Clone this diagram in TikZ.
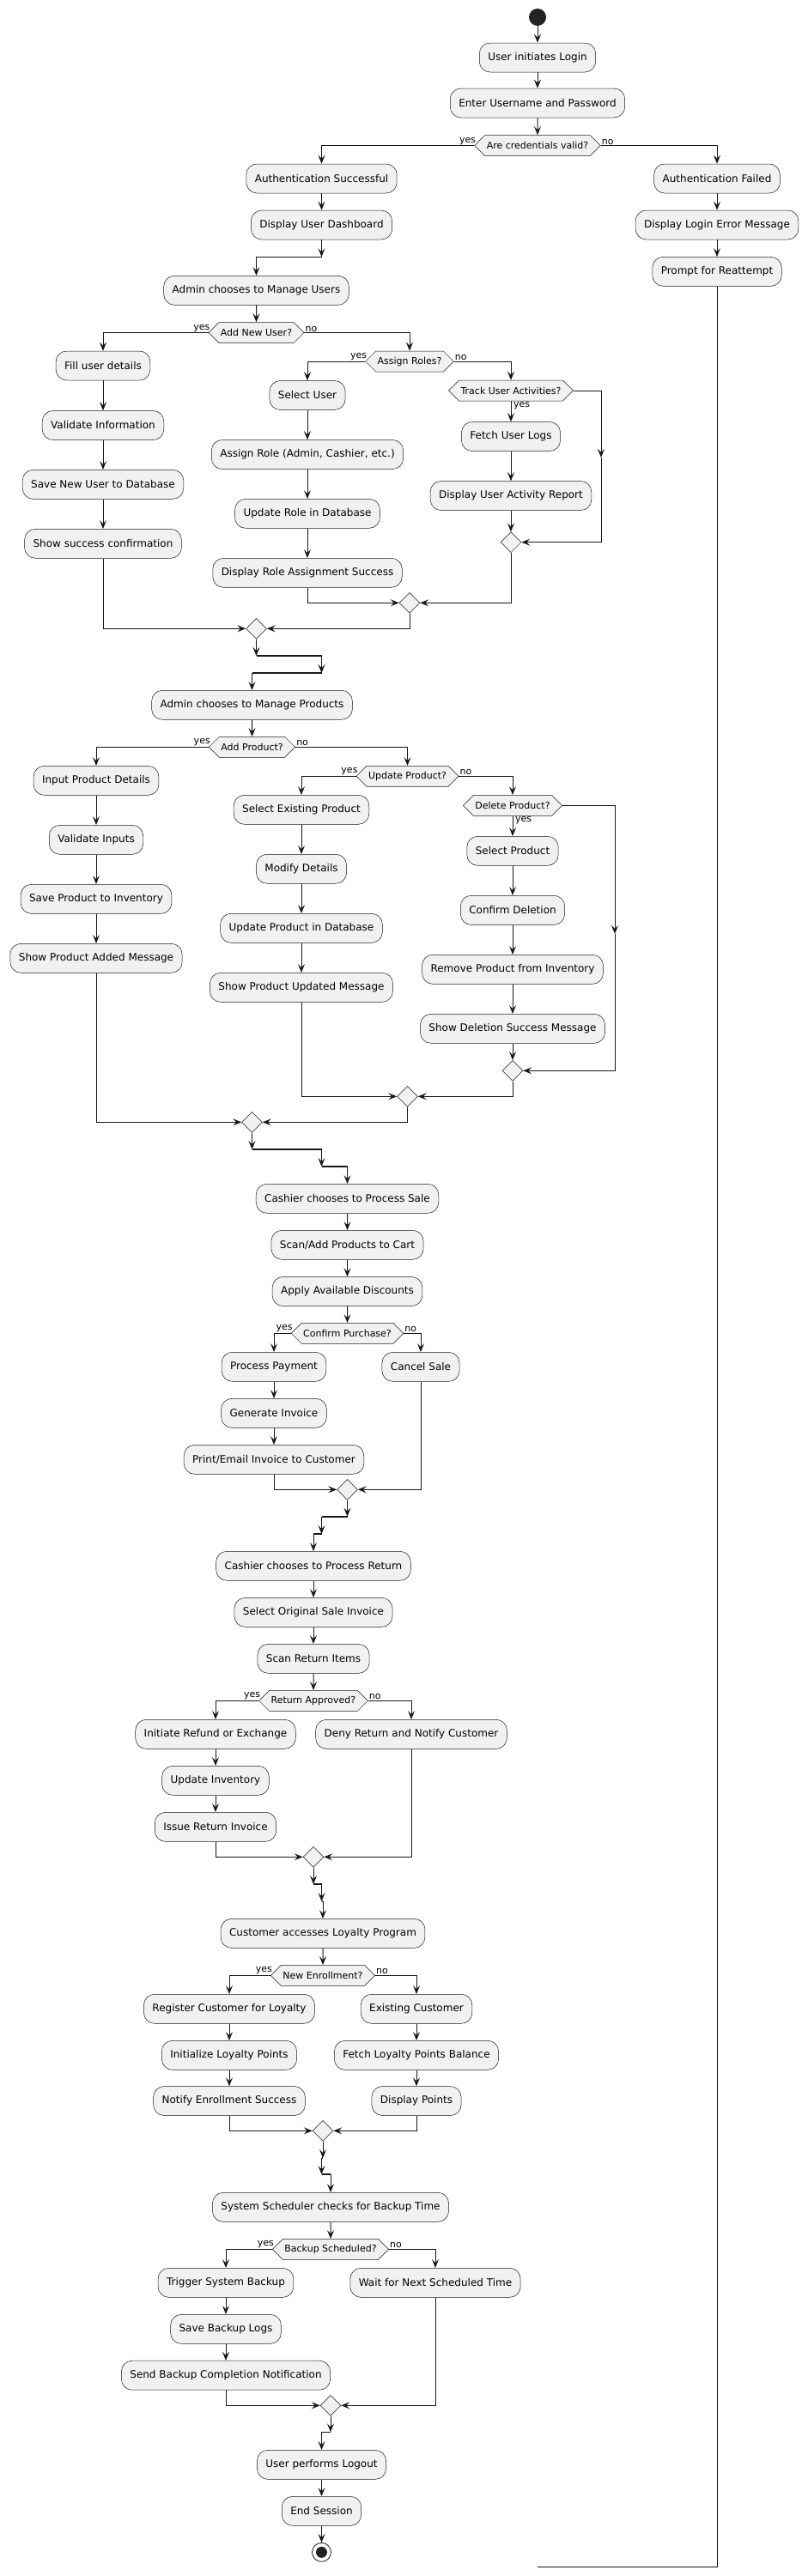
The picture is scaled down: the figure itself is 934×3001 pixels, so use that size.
\documentclass[tikz,border=0pt]{standalone}
\usepackage{fontspec}
\setmainfont{DejaVu Sans}
\usetikzlibrary{shapes.geometric,shapes.symbols,arrows.meta}
\definecolor{bfill}{HTML}{F1F1F1}
\definecolor{bline}{HTML}{181818}
\definecolor{dot}{HTML}{222222}
\begin{document}
\begin{tikzpicture}[x=1pt,y=-1pt,
 act/.style={draw=bline,fill=bfill,line width=0.5pt,rounded corners=12.5pt,minimum height=34pt,inner xsep=10pt,inner ysep=0pt,font=\fontsize{12}{14}\selectfont},
 dec/.style={signal,signal to=east and west,draw=bline,fill=bfill,line width=0.5pt,minimum height=24pt,inner xsep=2pt,inner ysep=0pt,font=\fontsize{11}{13}\selectfont},
 mrg/.style={diamond,draw=bline,fill=bfill,line width=0.5pt,minimum width=24pt,minimum height=24pt,inner sep=0pt},
 arr/.style={draw=bline,line width=1pt,-{Stealth[length=10pt,width=8pt,inset=4pt]}},
 ln/.style={draw=bline,line width=1pt},
 jbar/.style={draw=bline,line width=1.6pt},
 lbl/.style={font=\fontsize{11}{13}\selectfont,inner sep=1pt}]
\useasboundingbox (0,0) rectangle (934,3001);

% ---------- login ----------
\node[circle,fill=dot,minimum size=20pt,inner sep=0pt] (start) at (626,20) {};
\node[act] (n1) at (626,67) {User initiates Login};
\node[act] (n2) at (626,120) {Enter Username and Password};
\node[dec] (d1) at (626,169.5) {Are credentials valid?};
\node[act] (n3) at (374.5,208) {Authentication Successful};
\node[act] (n4) at (835,208) {Authentication Failed};
\node[act] (n5) at (374.5,262) {Display User Dashboard};
\node[act] (n6) at (835,262) {Display Login Error Message};
\node[act] (n7) at (835,316.3) {Prompt for Reattempt};

\draw[arr] (start) -- (n1);
\draw[arr] (n1) -- (n2);
\draw[arr] (n2) -- (d1);
\draw[arr] (d1.west) -| (n3.north);
\draw[arr] (d1.east) -| (n4.north);
\node[lbl,anchor=south east,xshift=3pt] (y1) at (d1.west) {yes};
\node[lbl,anchor=south west] (o1) at (d1.east) {no};
\draw[arr] (n3) -- (n5);
\draw[arr] (n4) -- (n6);
\draw[arr] (n6) -- (n7);
\coordinate (rb) at (835,2990);
\coordinate (re) at (626,2990);
\draw[ln] (n7.south) -- (rb) -- (re);

\coordinate (j1a) at (374.5,299.3);
\coordinate (j1b) at (298.5,299.3);
\draw[arr] (n5.south) -- (j1a);
\draw[jbar] (j1a) -- (j1b);

% ---------- manage users ----------
\node[act] (n8) at (298.5,338.3) {Admin chooses to Manage Users};
\draw[arr] (j1b) -- (n8.north);
\node[dec] (d2) at (298.5,387.5) {Add New User?};
\draw[arr] (n8) -- (d2);
\node[act] (n9) at (120,426) {Fill user details};
\node[dec] (d3) at (477,421) {Assign Roles?};
\draw[arr] (d2.west) -| (n9.north);
\draw[arr] (d2.east) -| (d3.north);
\node[lbl,anchor=south east,xshift=3pt] (y2) at (d2.west) {yes};
\node[lbl,anchor=south west] (o2) at (d2.east) {no};
\node[act] (n10) at (120,495.5) {Validate Information};
\node[act] (n11) at (120,564.3) {Save New User to Database};
\node[act] (n12) at (120,633.3) {Show success confirmation};
\draw[arr] (n9) -- (n10);
\draw[arr] (n10) -- (n11);
\draw[arr] (n11) -- (n12);
\node[act] (n13) at (358,460.5) {Select User};
\node[act] (n14) at (358,529.5) {Assign Role (Admin, Cashier, etc.)};
\node[act] (n15) at (358,598.3) {Update Role in Database};
\node[act] (n16) at (358,667.3) {Display Role Assignment Success};
\node[dec] (d4) at (595,455) {Track User Activities?};
\draw[arr] (d3.west) -| (n13.north);
\draw[arr] (d3.east) -| (d4.north);
\node[lbl,anchor=south east,xshift=3pt] (y3) at (d3.west) {yes};
\node[lbl,anchor=south west] (o3) at (d3.east) {no};
\draw[arr] (n13) -- (n14);
\draw[arr] (n14) -- (n15);
\draw[arr] (n15) -- (n16);
\node[act] (n17) at (595,508.5) {Fetch User Logs};
\node[act] (n18) at (595,577.5) {Display User Activity Report};
\draw[arr] (d4.south) -- (n17.north);
\node[lbl,anchor=north west,xshift=2pt] (y4) at (d4.south) {yes};
\draw[arr] (n17) -- (n18);
\node[mrg] (m1) at (595,631.7) {};
\draw[arr] (n18) -- (m1);
\coordinate (c1m) at (700,533);
\draw[arr] (d4.east) -| (c1m);
\draw[arr] (c1m) |- (m1.east);
\node[mrg] (m2) at (477,702.3) {};
\draw[arr] (n16.south) |- (m2.west);
\draw[arr] (m1.south) |- (m2.east);
\node[mrg] (m3) at (298.5,732.3) {};
\draw[arr] (n12.south) |- (m3.west);
\draw[arr] (m2.south) |- (m3.east);

\coordinate (j2a) at (298.5,764);
\coordinate (j2b) at (374.5,764);
\coordinate (j2c) at (374.5,784);
\coordinate (j2d) at (293.5,784);
\draw[arr] (m3.south) -- (j2a);
\draw[jbar] (j2a) -- (j2b);
\draw[arr] (j2b) -- (j2c);
\draw[jbar] (j2c) -- (j2d);

% ---------- manage products ----------
\node[act] (n19) at (293.5,821.3) {Admin chooses to Manage Products};
\draw[arr] (j2d) -- (n19.north);
\node[dec] (d5) at (293.5,870.3) {Add Product?};
\draw[arr] (n19) -- (d5);
\node[act] (n20) at (112,909.3) {Input Product Details};
\node[dec] (d6) at (474.5,904.3) {Update Product?};
\draw[arr] (d5.west) -| (n20.north);
\draw[arr] (d5.east) -| (d6.north);
\node[lbl,anchor=south east,xshift=3pt] (y5) at (d5.west) {yes};
\node[lbl,anchor=south west] (o5) at (d5.east) {no};
\node[act] (n21) at (112,978.3) {Validate Inputs};
\node[act] (n22) at (112,1047.3) {Save Product to Inventory};
\node[act] (n23) at (112,1116.3) {Show Product Added Message};
\draw[arr] (n20) -- (n21);
\draw[arr] (n21) -- (n22);
\draw[arr] (n22) -- (n23);
\node[act] (n24) at (351,943.3) {Select Existing Product};
\node[act] (n25) at (351,1012.3) {Modify Details};
\node[act] (n26) at (351,1081.3) {Update Product in Database};
\node[act] (n27) at (351,1150.3) {Show Product Updated Message};
\node[dec] (d7) at (597,938.3) {Delete Product?};
\draw[arr] (d6.west) -| (n24.north);
\draw[arr] (d6.east) -| (d7.north);
\node[lbl,anchor=south east,xshift=3pt] (y6) at (d6.west) {yes};
\node[lbl,anchor=south west] (o6) at (d6.east) {no};
\draw[arr] (n24) -- (n25);
\draw[arr] (n25) -- (n26);
\draw[arr] (n26) -- (n27);
\node[act] (n28) at (597,991.3) {Select Product};
\node[act] (n29) at (597,1060.3) {Confirm Deletion};
\node[act] (n30) at (597,1129.3) {Remove Product from Inventory};
\node[act] (n31) at (597,1198.3) {Show Deletion Success Message};
\draw[arr] (d7.south) -- (n28.north);
\node[lbl,anchor=north west,xshift=2pt] (y7) at (d7.south) {yes};
\draw[arr] (n28) -- (n29);
\draw[arr] (n29) -- (n30);
\draw[arr] (n30) -- (n31);
\node[mrg] (m4) at (597,1247.3) {};
\draw[arr] (n31) -- (m4);
\coordinate (c2m) at (716,1088);
\draw[arr] (d7.east) -| (c2m);
\draw[arr] (c2m) |- (m4.east);
\node[mrg] (m5) at (474.5,1277.3) {};
\draw[arr] (n27.south) |- (m5.west);
\draw[arr] (m4.south) |- (m5.east);
\node[mrg] (m6) at (293.5,1307.3) {};
\draw[arr] (n23.south) |- (m6.west);
\draw[arr] (m5.south) |- (m6.east);

\coordinate (j3a) at (293.5,1339);
\coordinate (j3b) at (374.5,1339);
\coordinate (j3c) at (374.5,1359);
\coordinate (j3d) at (404.5,1359);
\draw[arr] (m6.south) -- (j3a);
\draw[jbar] (j3a) -- (j3b);
\draw[arr] (j3b) -- (j3c);
\draw[jbar] (j3c) -- (j3d);

% ---------- sale ----------
\node[act] (n32) at (404.5,1396.3) {Cashier chooses to Process Sale};
\draw[arr] (j3d) -- (n32.north);
\node[act] (n33) at (404.5,1450.3) {Scan/Add Products to Cart};
\node[act] (n34) at (404.5,1504.5) {Apply Available Discounts};
\node[dec] (d8) at (404.5,1553.3) {Confirm Purchase?};
\draw[arr] (n32) -- (n33);
\draw[arr] (n33) -- (n34);
\draw[arr] (n34) -- (d8);
\node[act] (n35) at (319,1592.3) {Process Payment};
\node[act] (n36) at (490,1592.3) {Cancel Sale};
\draw[arr] (d8.west) -| (n35.north);
\draw[arr] (d8.east) -| (n36.north);
\node[lbl,anchor=south east,xshift=3pt] (y8) at (d8.west) {yes};
\node[lbl,anchor=south west] (o8) at (d8.east) {no};
\node[act] (n37) at (319,1646.3) {Generate Invoice};
\node[act] (n38) at (319,1700.3) {Print/Email Invoice to Customer};
\draw[arr] (n35) -- (n37);
\draw[arr] (n37) -- (n38);
\node[mrg] (m7) at (404.5,1735.3) {};
\draw[arr] (n38.south) |- (m7.west);
\draw[arr] (n36.south) |- (m7.east);

\coordinate (j4a) at (404.5,1766.7);
\coordinate (j4b) at (374.5,1766.7);
\coordinate (j4c) at (374.5,1787);
\coordinate (j4d) at (365,1787);
\draw[arr] (m7.south) -- (j4a);
\draw[jbar] (j4a) -- (j4b);
\draw[arr] (j4b) -- (j4c);
\draw[jbar] (j4c) -- (j4d);

% ---------- return ----------
\node[act] (n39) at (365,1824.3) {Cashier chooses to Process Return};
\draw[arr] (j4d) -- (n39.north);
\node[act] (n40) at (365,1878.3) {Select Original Sale Invoice};
\node[act] (n41) at (365,1932.3) {Scan Return Items};
\node[dec] (d9) at (365,1981.3) {Return Approved?};
\draw[arr] (n39) -- (n40);
\draw[arr] (n40) -- (n41);
\draw[arr] (n41) -- (d9);
\node[act] (n42) at (251,2020.3) {Initiate Refund or Exchange};
\node[act] (n43) at (479,2020.3) {Deny Return and Notify Customer};
\draw[arr] (d9.west) -| (n42.north);
\draw[arr] (d9.east) -| (n43.north);
\node[lbl,anchor=south east,xshift=3pt] (y9) at (d9.west) {yes};
\node[lbl,anchor=south west] (o9) at (d9.east) {no};
\node[act] (n44) at (251,2074.3) {Update Inventory};
\node[act] (n45) at (251,2128.3) {Issue Return Invoice};
\draw[arr] (n42) -- (n44);
\draw[arr] (n44) -- (n45);
\node[mrg] (m8) at (365,2163.3) {};
\draw[arr] (n45.south) |- (m8.west);
\draw[arr] (n43.south) |- (m8.east);

\coordinate (j5a) at (365,2195);
\coordinate (j5b) at (374.5,2195);
\coordinate (j5c) at (374.5,2215);
\coordinate (j5d) at (376,2215);
\draw[arr] (m8.south) -- (j5a);
\draw[jbar] (j5a) -- (j5b);
\draw[arr] (j5b) -- (j5c);
\draw[jbar] (j5c) -- (j5d);

% ---------- loyalty ----------
\node[act] (n46) at (376,2252.3) {Customer accesses Loyalty Program};
\draw[arr] (j5d) -- (n46.north);
\node[dec] (d10) at (376,2301.3) {New Enrollment?};
\draw[arr] (n46) -- (d10);
\node[act] (n47) at (267,2340.3) {Register Customer for Loyalty};
\node[act] (n48) at (485,2340.3) {Existing Customer};
\draw[arr] (d10.west) -| (n47.north);
\draw[arr] (d10.east) -| (n48.north);
\node[lbl,anchor=south east,xshift=3pt] (y10) at (d10.west) {yes};
\node[lbl,anchor=south west] (o10) at (d10.east) {no};
\node[act] (n49) at (267,2394.3) {Initialize Loyalty Points};
\node[act] (n50) at (485,2394.3) {Fetch Loyalty Points Balance};
\node[act] (n51) at (267,2447.5) {Notify Enrollment Success};
\node[act] (n52) at (485,2447.5) {Display Points};
\draw[arr] (n47) -- (n49);
\draw[arr] (n49) -- (n51);
\draw[arr] (n48) -- (n50);
\draw[arr] (n50) -- (n52);
\node[mrg] (m9) at (376,2482.3) {};
\draw[arr] (n51.south) |- (m9.west);
\draw[arr] (n52.south) |- (m9.east);

\coordinate (j6a) at (376,2514);
\coordinate (j6b) at (374.5,2514);
\coordinate (j6c) at (374.5,2533);
\coordinate (j6d) at (385,2533);
\draw[arr] (m9.south) -- (j6a);
\draw[jbar] (j6a) -- (j6b);
\draw[arr] (j6b) -- (j6c);
\draw[jbar] (j6c) -- (j6d);

% ---------- backup ----------
\node[act] (n53) at (385,2571.3) {System Scheduler checks for Backup Time};
\draw[arr] (j6d) -- (n53.north);
\node[dec] (d11) at (385,2620.3) {Backup Scheduled?};
\draw[arr] (n53) -- (d11);
\node[act] (n54) at (263,2659.3) {Trigger System Backup};
\node[act] (n55) at (507,2659.3) {Wait for Next Scheduled Time};
\draw[arr] (d11.west) -| (n54.north);
\draw[arr] (d11.east) -| (n55.north);
\node[lbl,anchor=south east,xshift=3pt] (y11) at (d11.west) {yes};
\node[lbl,anchor=south west] (o11) at (d11.east) {no};
\node[act] (n56) at (263,2713.3) {Save Backup Logs};
\node[act] (n57) at (263,2767.2) {Send Backup Completion Notification};
\draw[arr] (n54) -- (n56);
\draw[arr] (n56) -- (n57);
\node[mrg] (m10) at (385,2802.3) {};
\draw[arr] (n57.south) |- (m10.west);
\draw[arr] (n55.south) |- (m10.east);

\coordinate (j7a) at (385,2833.3);
\coordinate (j7b) at (374.5,2833.3);
\draw[arr] (m10.south) -- (j7a);
\draw[jbar] (j7a) -- (j7b);

% ---------- logout ----------
\node[act] (n58) at (374.5,2871.3) {User performs Logout};
\draw[arr] (j7b) -- (n58.north);
\node[act] (n59) at (374.5,2925.3) {End Session};
\draw[arr] (n58) -- (n59);
\node[circle,draw=bline,fill=white,line width=0.8pt,minimum size=22pt,inner sep=0pt] (end) at (374.5,2973.3) {};
\node[circle,fill=dot,minimum size=13pt,inner sep=0pt] (endin) at (end.center) {};
\draw[arr] (n59) -- (end);
\end{tikzpicture}
\end{document}
